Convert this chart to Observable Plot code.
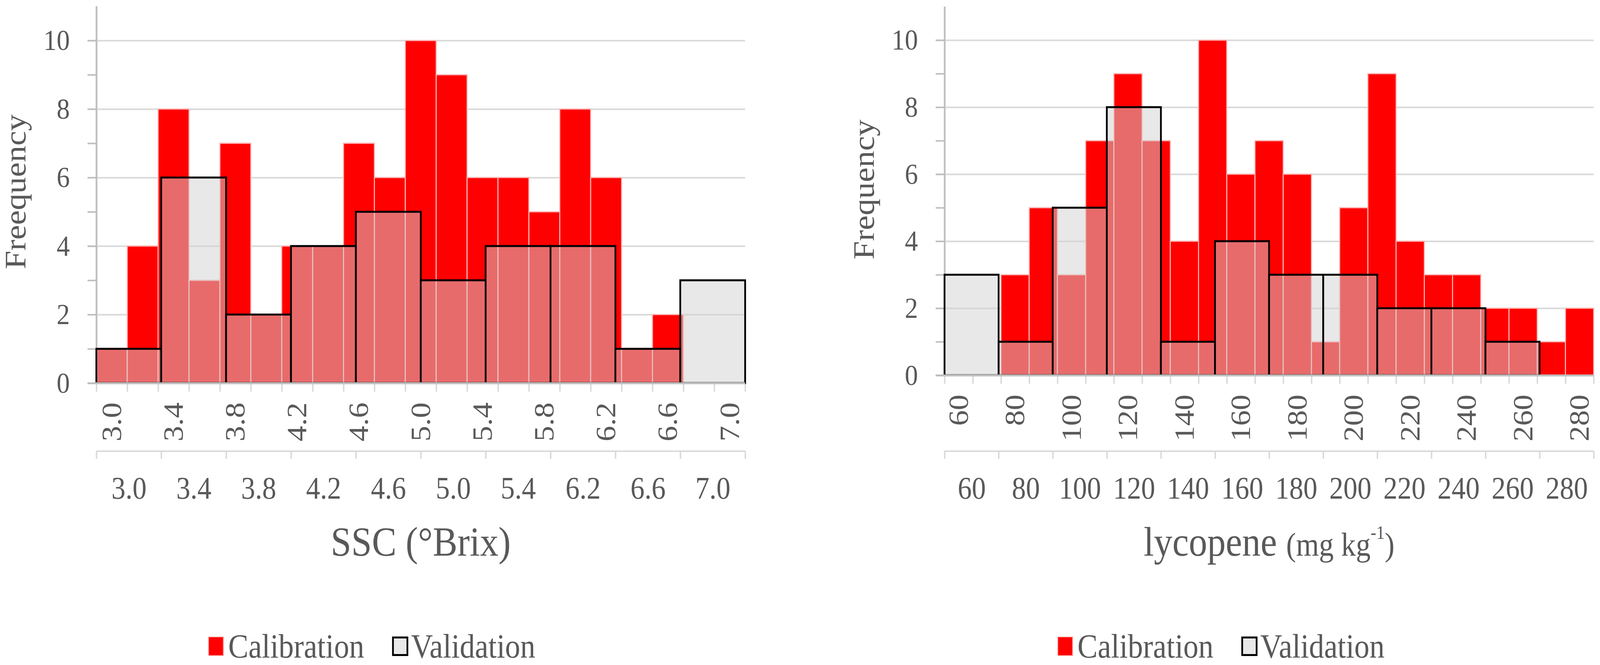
<!DOCTYPE html>
<html><head><meta charset="utf-8">
<script src="https://cdn.jsdelivr.net/npm/d3@7"></script>
<script src="https://cdn.jsdelivr.net/npm/@observablehq/plot@0.6"></script>
<style>
html,body{margin:0;background:#fff;overflow:hidden;}
#root{position:relative;width:4550px;height:1703px;display:flex;font-family:'Liberation Serif','Times New Roman',serif;color:#595959;transform-origin:0 0;}
.panel{position:relative;width:2275px;height:1703px;flex:none;}
.plots{position:absolute;left:0;top:0;width:2275px;height:1330px;}
.plots svg{position:absolute;left:0;top:0;max-width:none;}
.xtitle{position:absolute;top:1335px;text-align:center;font-size:105px;line-height:1;white-space:nowrap;}
.xtitle .unit{font-size:84px;}
.xtitle sup{font-size:48px;vertical-align:0.9em;line-height:0;}
.legend{position:absolute;top:1612px;display:flex;align-items:center;font-size:86px;line-height:1;white-space:nowrap;}
.sw{display:inline-block;box-sizing:border-box;}
</style></head>
<body>
<div id="root"></div>
<script>
// ---------- data ----------
const sscCalLabels = ["3.0","3.2","3.4","3.6","3.8","4.0","4.2","4.4","4.6","4.8","5.0","5.2","5.4","5.6","5.8","6.0","6.2","6.4","6.6","6.8","7.0"];
const sscCalCounts = [1,4,8,3,7,2,4,4,7,6,10,9,6,6,5,8,6,1,2,0,0];
const sscValLabels = ["3.0","3.4","3.8","4.2","4.6","5.0","5.4","6.2","6.6","7.0"];
const sscValCounts = [1,6,2,4,5,3,4,4,1,3];

const lycCalLabels = ["60","70","80","90","100","110","120","130","140","150","160","170","180","190","200","210","220","230","240","250","260","270","280"];
const lycCalCounts = [0,0,3,5,3,7,9,7,4,10,6,7,6,1,5,9,4,3,3,2,2,1,2];
const lycValLabels = ["60","80","100","120","140","160","180","200","220","240","260","280"];
const lycValCounts = [3,1,5,8,1,4,3,3,2,2,1,0];

const yTicks = [0,1,2,3,4,5,6,7,8,9,10];
const yGrid = [2,4,6,8,10];
const yMax = 11;

// ---------- styles ----------
const FONT = "'Liberation Serif','Times New Roman',serif";
const TEXT = "#595959";
const RED = "#ff0000";
const W = 2275, H = 1330;

function buildPanel(cfg) {
  const panel = document.createElement("div");
  panel.className = "panel";
  const plots = document.createElement("div");
  plots.className = "plots";
  panel.appendChild(plots);

  const calData = cfg.calLabels.map((label, i) => ({i, label, count: cfg.calCounts[i]}));
  const valData = cfg.valLabels.map((label, i) => ({i, label, count: cfg.valCounts[i]}));
  const nC = calData.length, nV = valData.length;
  const common = {
    width: W, height: H,
    marginLeft: cfg.marginLeft, marginRight: cfg.marginRight,
    marginTop: cfg.frameTop, marginBottom: H - cfg.frameBottom,
    style: {fontFamily: FONT, color: TEXT, background: "transparent", overflow: "visible"}
  };

  const main = Plot.plot({
    ...common,
    x: {type: "linear", domain: [0, nC]},
    y: {domain: [0, yMax]},
    marks: [
      Plot.ruleY(yGrid, {stroke: "#d9d9d9", strokeWidth: 4, insetLeft: -25}),
      Plot.axisY({ticks: yTicks, tickSize: 25, tickPadding: 51, stroke: "#bfbfbf", strokeWidth: 4,
        tickFormat: d => d % 2 ? "" : String(d), fontSize: 75, label: null}),
      Plot.rect(calData, {x1: "i", x2: d => d.i + 1, y1: 0, y2: "count",
        fill: RED, stroke: "#ffb3b3", strokeWidth: 3}),
      Plot.ruleX([0], {stroke: "#bfbfbf", strokeWidth: 5}),
      Plot.axisX({ticks: d3.range(0, nC + 1), tickSize: 22, stroke: "#d9d9d9", strokeWidth: 4,
        tickFormat: () => "", label: null}),
      Plot.axisX({ticks: calData.filter(d => d.i % 2 === 0).map(d => d.i + 0.5),
        tickSize: 0, tickPadding: 49, tickRotate: -90, textAnchor: "end", lineAnchor: "middle",
        tickFormat: v => cfg.calLabels[Math.floor(v)], fontSize: 80, label: null}),
      Plot.text([cfg.yLabel], {text: d => d, frameAnchor: "left", rotate: -90, dx: -229, dy: cfg.yLabelDy,
        fontSize: 85, fill: TEXT, textAnchor: "middle", lineAnchor: "middle"})
    ]
  });

  const over = Plot.plot({
    ...common,
    x: {type: "linear", domain: [0, nV]},
    y: {domain: [0, yMax], axis: null},
    marks: [
      Plot.rect(valData.filter(d => d.count > 0), {x1: "i", x2: d => d.i + 1, y1: 0, y2: "count",
        fill: "#d2d2d2", fillOpacity: 0.51, stroke: "#000000", strokeWidth: 5}),
      Plot.ruleY([0], {stroke: "#bfbfbf", strokeWidth: 5, insetLeft: -25}),
      Plot.ruleY([0], {stroke: "#d9d9d9", strokeWidth: 4, dy: cfg.row2}),
      Plot.axisX({ticks: d3.range(0, nV + 1), tickSize: 20, dy: cfg.row2, stroke: "#d9d9d9", strokeWidth: 4,
        tickFormat: () => "", label: null}),
      Plot.axisX({ticks: valData.map(d => d.i + 0.5), tickSize: 0, tickPadding: 65, dy: cfg.row2,
        tickFormat: v => cfg.valLabels[Math.floor(v)], fontSize: 80, label: null})
    ]
  });

  plots.appendChild(main);
  plots.appendChild(over);

  const title = document.createElement("div");
  title.className = "xtitle";
  title.style.left = cfg.marginLeft + "px";
  title.style.width = (W - cfg.marginLeft - cfg.marginRight) + "px";
  title.innerHTML = cfg.titleHTML;
  panel.appendChild(title);

  const legend = document.createElement("div");
  legend.className = "legend";
  legend.style.left = cfg.legendLeft + "px";
  legend.innerHTML =
    `<span class="sw" style="width:44px;height:50px;background:${RED};border:2px solid #ffb3b3;margin-right:13px"></span>` +
    `<span>Calibration</span>` +
    `<span class="sw" style="width:46px;height:50px;background:#e8e8e8;border:5px solid #000;margin-left:79px;margin-right:8px"></span>` +
    `<span>Validation</span>`;
  panel.appendChild(legend);
  return panel;
}

const root = document.getElementById("root");
root.appendChild(buildPanel({
  calLabels: sscCalLabels, calCounts: sscCalCounts,
  valLabels: sscValLabels, valCounts: sscValCounts,
  marginLeft: 274, marginRight: 156, frameTop: 16, frameBottom: 981,
  yLabel: "Freequency", yLabelDy: -8, row2: 174, legendLeft: 592,
  titleHTML: "SSC (°Brix)"
}));
root.appendChild(buildPanel({
  calLabels: lycCalLabels, calCounts: lycCalCounts,
  valLabels: lycValLabels, valCounts: lycValCounts,
  marginLeft: 411, marginRight: 18, frameTop: 17, frameBottom: 961,
  yLabel: "Frequency", yLabelDy: -4, row2: 194, legendLeft: 732,
  titleHTML: 'lycopene <span class="unit">(mg kg<sup>-1</sup>)</span>'
}));

// fit the 4550×1703 layout to the actual viewport
const sx = window.innerWidth / 4550, sy = window.innerHeight / 1703;
root.style.transform = `scale(${sx}, ${sy})`;
</script>
</body></html>
